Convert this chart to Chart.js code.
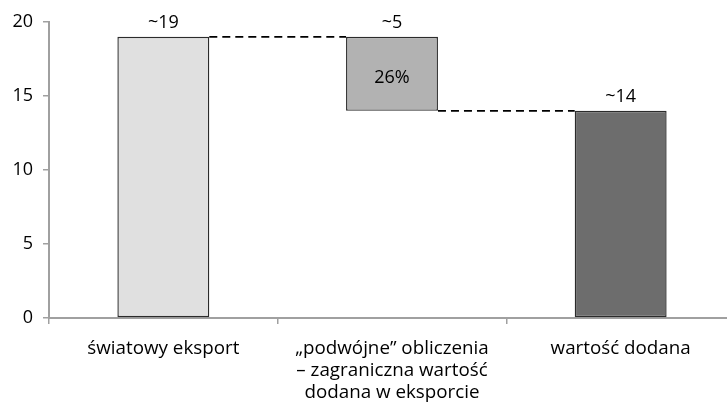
<!DOCTYPE html>
<html><head><meta charset="utf-8">
<script src="https://cdn.jsdelivr.net/npm/chart.js@4/dist/chart.umd.min.js"></script>
<style>
html,body{margin:0;padding:0;background:#fff;overflow:hidden;width:727px;height:407px}
#wrap{width:735px;height:407px;position:relative}
</style></head>
<body><div id="wrap"><canvas id="c" width="735" height="407"></canvas></div>
<script>
const categories = [["światowy eksport"], ["„podwójne” obliczenia", "– zagraniczna wartość", "dodana w eksporcie"], ["wartość dodana"]];
const barStarts = [0, 14, 0];
const barEnds = [19, 19, 14];
const topLabels = ["~19", "~5", "~14"];
const innerLabels = ["", "26%", ""];
const yTicks = [0, 5, 10, 15, 20];
const colors = ["#e0e0e0", "#b2b2b2", "#6d6d6d"];

const FONT = "'Open Sans', sans-serif";
const FSIZE = 18;
const XSIZE = 18.8;

const labelPlugin = {
  id: 'wfExtras',
  afterDatasetsDraw(chart) {
    const ctx = chart.ctx;
    const meta = chart.getDatasetMeta(0);
    const els = meta.data;
    ctx.save();
    ctx.strokeStyle = '#000';
    ctx.lineWidth = 1.8;
    ctx.setLineDash([8, 5]);
    for (let i = 0; i < els.length - 1; i++) {
      const a = els[i], b = els[i + 1];
      const level = (i === 0) ? barEnds[i] : barStarts[i];
      const y = chart.scales.y.getPixelForValue(level);
      ctx.beginPath();
      ctx.moveTo(a.x + a.width / 2, y);
      ctx.lineTo(b.x - b.width / 2, y);
      ctx.stroke();
    }
    ctx.restore();
    ctx.save();
    ctx.fillStyle = '#000';
    ctx.font = FSIZE + "px " + FONT;
    ctx.textAlign = 'center';
    els.forEach((el, i) => {
      const yTop = chart.scales.y.getPixelForValue(barEnds[i]);
      ctx.textBaseline = 'alphabetic';
      ctx.fillText(topLabels[i], el.x, yTop - 9);
      if (innerLabels[i]) {
        const yBot = chart.scales.y.getPixelForValue(barStarts[i]);
        ctx.textBaseline = 'middle';
        ctx.fillText(innerLabels[i], el.x, (yTop + yBot) / 2 + 4);
      }
    });
    ctx.restore();
  }
};

new Chart(document.getElementById('c'), {
  type: 'bar',
  data: {
    labels: categories,
    datasets: [{
      data: barStarts.map((s, i) => [s, barEnds[i]]),
      backgroundColor: colors,
      borderColor: '#2b2b2b',
      borderWidth: 1.4,
      borderSkipped: false,
      categoryPercentage: 1,
      barPercentage: 0.402
    }]
  },
  options: {
    responsive: false,
    animation: false,
    devicePixelRatio: 1,
    layout: { padding: { top: 22, right: 0, bottom: 0, left: 0 } },
    plugins: { legend: { display: false }, tooltip: { enabled: false } },
    scales: {
      x: {
        offset: true,
        grid: { offset: true, drawOnChartArea: false, drawTicks: true, tickLength: 6, color: '#a0a0a0', lineWidth: 1.5 },
        border: { color: '#a0a0a0', width: 2 },
        ticks: { color: '#000', font: { family: FONT, size: XSIZE, lineHeight: 1.17 }, padding: 14, maxRotation: 0, autoSkip: false },
        afterFit(s) { s.height = 89; }
      },
      y: {
        min: 0, max: 20,
        afterBuildTicks(s) { s.ticks = yTicks.map(v => ({ value: v })); },
        grid: { drawOnChartArea: false, drawTicks: true, tickLength: 6, color: '#a0a0a0', lineWidth: 1.5 },
        border: { color: '#a0a0a0', width: 2 },
        ticks: { color: '#000', font: { family: FONT, size: FSIZE }, padding: 10 },
        afterFit(s) { s.width = 49; }
      }
    }
  },
  plugins: [labelPlugin]
});
</script></body></html>
